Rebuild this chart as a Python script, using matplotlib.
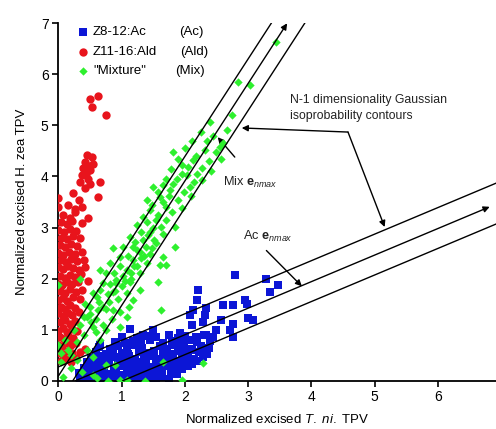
import matplotlib
matplotlib.use("Agg")
import matplotlib.pyplot as plt
import numpy as np

plt.rcParams["font.family"] = ["Liberation Sans", "DejaVu Sans"]
plt.rcParams["mathtext.fontset"] = "custom"
plt.rcParams["mathtext.rm"] = "Liberation Sans"
plt.rcParams["mathtext.it"] = "Liberation Sans:italic"
plt.rcParams["mathtext.bf"] = "Liberation Sans:bold"

# ── data ─────────────────────────────────────────────────────────────────────

# Z8-12:Ac (blue squares)
ac_points = [
    # bottom row
    (0.35, 0.03), (0.45, 0.06), (0.55, 0.02), (0.66, 0.05), (0.74, 0.03), (0.85, 0.07),
    (0.95, 0.02), (1.05, 0.05), (1.14, 0.03), (1.25, 0.06), (1.33, 0.02), (1.45, 0.05),
    (1.55, 0.03), (1.62, 0.07), (1.75, 0.04),
    (0.32, 0.15), (0.42, 0.13), (0.52, 0.17), (0.63, 0.12), (0.70, 0.16), (0.82, 0.14),
    (0.92, 0.18), (1.02, 0.12), (1.12, 0.15), (1.20, 0.17), (1.32, 0.13), (1.42, 0.16),
    (1.52, 0.12), (1.64, 0.15), (1.78, 0.17), (1.88, 0.13),
    (0.40, 0.25), (0.50, 0.28), (0.60, 0.23), (0.72, 0.27), (0.88, 0.24), (0.98, 0.29),
    (1.08, 0.22), (1.18, 0.26), (1.30, 0.28), (1.40, 0.23), (1.50, 0.27), (1.58, 0.24),
    (1.70, 0.29), (1.84, 0.25), (1.96, 0.22), (2.05, 0.28),
    (0.45, 0.36), (0.58, 0.33), (0.68, 0.38), (0.80, 0.35), (0.95, 0.32), (1.05, 0.39),
    (1.15, 0.34), (1.26, 0.37), (1.38, 0.33), (1.55, 0.38), (1.65, 0.35), (1.75, 0.32),
    (1.88, 0.39), (2.00, 0.36), (2.12, 0.33), (2.20, 0.38),
    (0.52, 0.45), (0.62, 0.48), (0.78, 0.43), (0.90, 0.47), (1.00, 0.44), (1.12, 0.49),
    (1.22, 0.42), (1.35, 0.46), (1.48, 0.48), (1.60, 0.43), (1.72, 0.47), (1.82, 0.44),
    (1.95, 0.49), (2.05, 0.45), (2.15, 0.42), (2.28, 0.47),
    (0.60, 0.56), (0.75, 0.53), (0.86, 0.58), (1.00, 0.55), (1.10, 0.52), (1.28, 0.57),
    (1.40, 0.54), (1.52, 0.59), (1.66, 0.56), (1.78, 0.53), (1.90, 0.58), (2.00, 0.55),
    (2.10, 0.60), (2.22, 0.56), (2.35, 0.53),
    (0.65, 0.66), (0.82, 0.63), (0.95, 0.68), (1.08, 0.65), (1.22, 0.69), (1.32, 0.64),
    (1.60, 0.67), (1.72, 0.63), (1.85, 0.69), (1.98, 0.66), (2.12, 0.62), (2.25, 0.68),
    (2.38, 0.65),
    (0.90, 0.76), (1.05, 0.73), (1.18, 0.78), (1.30, 0.75), (1.45, 0.79), (1.65, 0.74),
    (1.80, 0.77), (1.95, 0.73), (2.08, 0.79), (2.20, 0.75), (2.40, 0.78),
    (1.00, 0.86), (1.25, 0.83), (1.42, 0.88), (1.55, 0.85), (1.75, 0.89), (1.90, 0.84),
    (2.00, 0.88), (2.18, 0.85), (2.30, 0.89), (2.45, 0.86),
    # sparse upper part
    (2.79, 2.07), (3.29, 2.00), (3.48, 1.87), (3.35, 1.74), (2.21, 1.77), (2.19, 1.59),
    (2.95, 1.59), (2.98, 1.51), (2.61, 1.48), (2.76, 1.48), (2.34, 1.42), (2.13, 1.38),
    (2.32, 1.29), (2.08, 1.29), (3.00, 1.22), (3.08, 1.19), (2.58, 1.19), (2.76, 1.12),
    (2.29, 1.15), (2.11, 1.09), (2.71, 0.99), (2.50, 0.99), (2.76, 0.86), (1.13, 1.02),
    (1.50, 1.00), (1.34, 0.89), (1.92, 0.93), (2.34, 0.89), (0.66, 0.70),
]

# Z11-16:Ald (red circles)
ald_points = [
    (0.05, 0.38), (0.12, 0.42), (0.20, 0.36), (0.28, 0.44),
    (0.02, 0.55), (0.08, 0.52), (0.15, 0.58), (0.22, 0.54), (0.35, 0.57), (0.43, 0.63),
    (0.00, 0.70), (0.06, 0.67), (0.13, 0.73), (0.20, 0.69), (0.28, 0.74),
    (0.02, 0.86), (0.09, 0.82), (0.16, 0.88), (0.24, 0.84),
    (0.00, 0.98), (0.07, 1.03), (0.14, 0.96), (0.21, 1.01), (0.30, 0.97),
    (0.03, 1.14), (0.10, 1.18), (0.18, 1.12), (0.26, 1.16),
    (0.00, 1.32), (0.08, 1.27), (0.15, 1.33), (0.22, 1.29), (0.32, 1.35),
    (0.04, 1.45), (0.11, 1.41), (0.19, 1.48), (0.27, 1.43),
    (0.00, 1.58), (0.07, 1.62), (0.14, 1.56), (0.23, 1.64), (0.34, 1.60),
    (0.02, 1.76), (0.10, 1.72), (0.18, 1.79), (0.28, 1.74), (0.38, 1.78),
    (0.00, 1.90), (0.06, 1.87), (0.14, 1.93), (0.22, 1.89), (0.31, 1.94), (0.47, 1.95),
    (0.03, 2.05), (0.10, 2.02), (0.19, 2.08), (0.27, 2.04), (0.36, 2.09),
    (0.00, 2.22), (0.07, 2.18), (0.15, 2.24), (0.24, 2.20), (0.33, 2.16), (0.42, 2.23),
    (0.04, 2.36), (0.12, 2.32), (0.20, 2.38), (0.30, 2.34), (0.40, 2.37),
    (0.00, 2.50), (0.08, 2.47), (0.17, 2.53), (0.26, 2.49), (0.37, 2.52),
    (0.02, 2.65), (0.11, 2.62), (0.20, 2.68), (0.30, 2.64),
    (0.05, 2.80), (0.14, 2.77), (0.24, 2.83), (0.34, 2.79),
    (0.00, 2.95), (0.09, 2.92), (0.18, 2.98), (0.28, 2.94),
    (0.04, 3.10), (0.13, 3.07), (0.22, 3.13), (0.38, 3.09),
    (0.08, 3.25), (0.18, 3.18), (0.27, 3.30), (0.47, 3.18),
    (0.00, 3.40), (0.16, 3.44), (0.26, 3.36), (0.37, 3.40),
    (0.00, 3.57), (0.24, 3.67), (0.32, 3.54), (0.63, 3.60),
    (0.34, 3.89), (0.42, 3.77), (0.47, 3.96), (0.66, 3.89), (0.37, 4.03), (0.50, 4.12),
    (0.39, 4.16), (0.55, 4.25), (0.42, 4.29), (0.53, 4.38), (0.45, 4.42), (0.48, 4.20),
    (0.44, 4.05), (0.50, 3.85),
    (0.75, 5.20), (0.53, 5.36), (0.50, 5.51), (0.63, 5.58),
]

# "Mixture" (green diamonds)
mix_points = [
    (3.44, 6.63), (3.03, 5.79), (2.84, 5.85), (2.66, 4.91), (2.40, 5.07), (2.55, 4.58),
    (2.50, 4.48), (2.32, 4.51), (2.58, 4.35), (2.13, 4.32), (1.82, 4.48), (2.27, 4.16),
    (1.95, 4.22), (2.03, 4.03), (1.87, 3.96), (2.27, 3.93), (1.66, 3.83), (2.08, 3.80),
    (1.76, 3.73), (1.50, 3.80), (1.60, 3.60), (1.90, 3.54), (1.40, 3.54), (1.71, 3.40),
    (1.45, 3.34), (1.84, 3.01), (1.34, 3.21), (1.55, 3.14), (1.24, 3.05), (1.45, 2.92),
    (1.66, 2.88), (1.84, 2.62), (1.13, 2.82), (1.34, 2.75), (1.55, 2.69), (1.03, 2.62),
    (1.24, 2.56), (1.45, 2.49), (1.66, 2.43), (0.87, 2.59), (0.97, 2.43), (1.18, 2.36),
    (1.40, 2.30), (1.60, 2.26), (0.82, 2.30), (1.08, 2.17), (1.29, 2.10), (1.58, 1.94),
    (0.76, 2.10), (0.92, 1.97), (1.13, 1.94), (0.71, 1.91), (0.66, 1.77), (0.87, 1.74),
    (1.08, 1.71), (1.29, 1.77), (0.61, 1.64), (1.29, 2.52), (1.71, 2.26), (1.18, 1.58),
    (1.63, 1.38), (0.87, 1.38), (1.08, 1.25), (0.97, 1.06), (0.76, 0.99), (0.66, 0.80),
    (0.45, 0.60), (0.55, 0.47), (0.29, 0.40), (0.16, 0.60), (0.11, 0.80), (0.00, 0.67),
    (0.05, 0.54), (0.34, 2.00), (0.42, 1.51), (0.66, 2.17), (0.92, 1.91), (0.55, 1.71),
    (0.00, 1.87), (0.00, 0.70),
    (0.50, 1.30), (0.60, 1.20), (0.70, 1.45), (0.80, 1.55), (0.95, 1.60), (1.00, 1.85),
    (1.02, 2.05), (1.15, 2.10), (1.20, 2.25), (1.30, 2.40), (1.38, 2.62), (1.42, 2.85),
    (1.50, 3.00), (1.58, 3.25), (1.65, 3.50), (1.75, 3.62), (1.82, 3.85), (1.95, 4.05),
    (2.05, 4.18), (2.18, 4.40), (2.35, 4.70), (2.20, 4.05), (1.98, 3.70), (1.70, 3.15),
    (1.52, 2.75), (1.35, 2.45), (1.15, 2.00), (0.90, 1.75), (0.75, 1.40), (0.55, 1.05),
    (0.40, 0.90), (0.30, 0.75), (0.35, 1.10), (0.50, 1.45), (0.60, 0.95), (0.85, 1.20),
    (0.20, 0.50), (0.25, 1.00), (0.45, 1.25), (0.70, 1.10),
    # extra band points
    (1.10, 2.45), (1.22, 2.72), (1.30, 2.92), (1.40, 3.10), (1.48, 3.45), (1.58, 3.70),
    (1.70, 3.95), (1.78, 4.15), (1.90, 4.35), (2.00, 4.55), (2.12, 4.70), (2.25, 4.88),
    (2.45, 4.80), (2.38, 4.30), (2.15, 3.90), (1.95, 3.38), (1.80, 3.30), (1.62, 3.02),
    (1.48, 2.60), (1.25, 2.25), (1.05, 1.95), (0.98, 2.25), (0.82, 1.90), (0.65, 1.55),
    (0.52, 1.15), (0.40, 1.25), (0.62, 1.38), (0.78, 1.70), (0.88, 2.10), (1.18, 2.62),
    (2.10, 3.62), (2.42, 4.10), (2.60, 4.65), (2.75, 5.20), (1.12, 1.45), (0.98, 1.35),
    (2.29, 0.34), (1.66, 0.37), (0.90, 0.31), (0.61, 0.05), (0.79, 0.00), (0.97, 0.01),
    (1.37, 0.00), (1.95, 0.01), (0.37, 0.18), (1.08, 0.01), (0.05, 0.37), (0.08, 0.08),
    (0.55, 0.12), (0.20, 0.25), (0.75, 0.30),
]

# isoprobability contour lines: slope and start points
mix_slope = 1.91
mix_starts = [(0.0, 0.57), (0.0, 0.09), (0.23, 0.0)]
mix_top = 7.0
ac_slope = 0.52
ac_starts = [(0.0, 0.27), (0.27, 0.0), (1.02, 0.0)]
ac_arrow_x = 6.82

ac_x, ac_y = map(np.array, zip(*ac_points))
ald_x, ald_y = map(np.array, zip(*ald_points))
mix_x, mix_y = map(np.array, zip(*mix_points))

C_AC = "#0c16d6"
C_ALD = "#e8141c"
C_MIX = "#2ef02e"

# ── figure ───────────────────────────────────────────────────────────────────

fig = plt.figure(figsize=(4.96, 4.29), dpi=100)
ax = fig.add_axes([58.3 / 496, 48.3 / 429, 437.7 / 496, 357.4 / 429])

ax.scatter(ac_x, ac_y, marker="s", s=30, color=C_AC, linewidths=0, zorder=2)
ax.scatter(ald_x, ald_y, marker="o", s=36, color=C_ALD, linewidths=0, zorder=3)
ax.scatter(mix_x, mix_y, marker="D", s=18, color=C_MIX, linewidths=0, zorder=4)

line_kw = dict(color="black", lw=1.0, zorder=5)
arrow_kw = dict(arrowstyle="-|>", color="black", lw=1.0, mutation_scale=9,
                shrinkA=0, shrinkB=0)

# Mix contours (middle one ends in an arrow)
for i, (x0, y0) in enumerate(mix_starts):
    x1 = x0 + (mix_top - y0) / mix_slope
    if i == 1:
        ax.annotate("", xy=(x1, mix_top), xytext=(x0, y0), arrowprops=arrow_kw,
                    zorder=5, annotation_clip=False)
    else:
        ax.plot([x0, x1], [y0, mix_top], **line_kw)

# Ac contours (middle one ends in an arrow)
for i, (x0, y0) in enumerate(ac_starts):
    if i == 1:
        y1 = y0 + ac_slope * (ac_arrow_x - x0)
        ax.annotate("", xy=(ac_arrow_x, y1), xytext=(x0, y0), arrowprops=arrow_kw,
                    zorder=5)
    else:
        x1 = 7.5
        ax.plot([x0, x1], [y0, y0 + ac_slope * (x1 - x0)], **line_kw)

# annotations
ax.text(3.67, 5.34, "N-1 dimensionality Gaussian\nisoprobability contours",
        fontsize=8.8, ha="left", va="center", linespacing=1.4, color="#222222")
corner = (4.58, 4.87)
ax.annotate("", xy=(2.90, 4.95), xytext=corner, arrowprops=arrow_kw)
ax.annotate("", xy=(5.16, 3.01), xytext=corner, arrowprops=arrow_kw)

ax.text(2.60, 3.88, r"Mix $\mathbf{e}_{\mathit{nmax}}$", fontsize=9.2, ha="left",
        va="center", color="#222222")
ax.annotate("", xy=(2.52, 4.77), xytext=(2.79, 4.38), arrowprops=arrow_kw)

ax.text(2.92, 2.83, r"Ac $\mathbf{e}_{\mathit{nmax}}$", fontsize=9.2, ha="left",
        va="center", color="#222222")
ax.annotate("", xy=(3.85, 1.85), xytext=(3.29, 2.55), arrowprops=arrow_kw)

# legend drawn by hand
legend_rows = [
    ("s", 30, C_AC, "Z8-12:Ac", "(Ac)", 0.275),
    ("o", 36, C_ALD, "Z11-16:Ald", "(Ald)", 0.278),
    ("D", 18, C_MIX, "\"Mixture\"", "(Mix)", 0.268),
]
for k, (m, s, c, lab, short, xs) in enumerate(legend_rows):
    yy = 0.975 - 0.0545 * k
    ax.scatter([0.056], [yy], marker=m, s=s, color=c, linewidths=0,
               transform=ax.transAxes, clip_on=False, zorder=6)
    ax.text(0.079, yy, lab, fontsize=9.5, ha="left", va="center", transform=ax.transAxes)
    ax.text(xs, yy, short, fontsize=9.5, ha="left", va="center", transform=ax.transAxes)

ax.set_xlim(0, 6.92)
ax.set_ylim(0, 7.0)
ax.set_xticks(range(0, 7))
ax.set_yticks(range(0, 8))
for side in ("top", "right"):
    ax.spines[side].set_visible(False)
for side in ("left", "bottom"):
    ax.spines[side].set_linewidth(1.3)
ax.tick_params(axis="both", direction="out", length=4.5, width=1.2, labelsize=10, pad=2.5)

ax.set_xlabel(r"Normalized excised $\mathit{T.\ ni.}$ TPV", fontsize=9.5, labelpad=6)
ax.set_ylabel("Normalized excised H. zea TPV", fontsize=9.5, labelpad=9)

fig.savefig("out.png", dpi=100)
